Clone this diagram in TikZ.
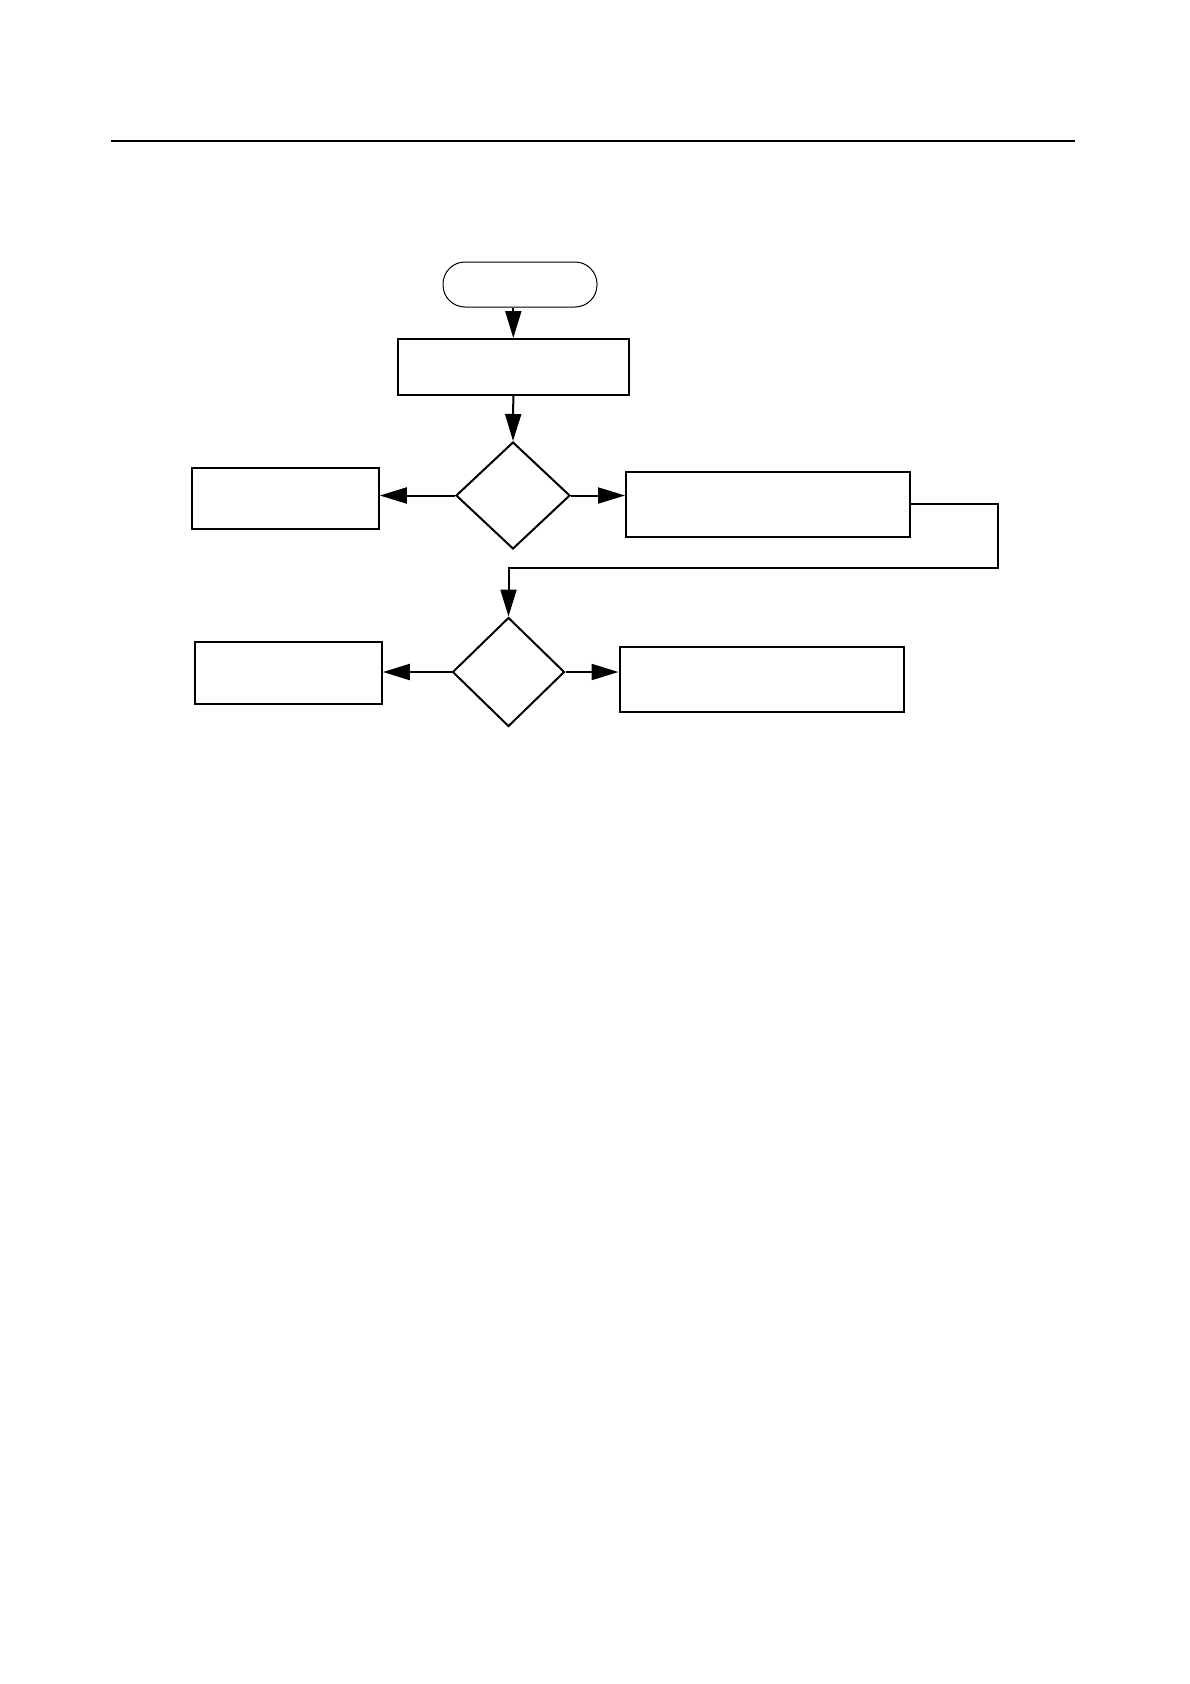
\documentclass[tikz,border=0pt]{standalone}
\usetikzlibrary{shapes.geometric,arrows.meta}

\begin{document}
\begin{tikzpicture}[x=1pt,y=-1pt,>={Triangle[length=27pt,width=16pt]},
    box/.style={draw,line width=2pt,inner sep=0pt},
    cond/.style={draw,diamond,line width=2pt,inner sep=0pt},
    flow/.style={->,line width=2pt}]
  \useasboundingbox (0,0) rectangle (1190,1684);
  \draw[line width=2.4pt] (111,141) -- (1075,141);
  \node[draw,line width=1pt,rounded corners=22pt,minimum width=154pt,minimum height=45pt] (start) at (520,284.5) {};
  \node[box,minimum width=231pt,minimum height=56pt] (init) at (513.3,367) {};
  \node[cond,minimum width=114pt,minimum height=107pt] (testa) at (513,495.5) {};
  \node[box,minimum width=187pt,minimum height=61pt] (noa) at (285.3,498) {};
  \node[box,minimum width=284pt,minimum height=65pt] (yesa) at (768,504) {};
  \node[cond,minimum width=112pt,minimum height=109pt] (testb) at (508.5,672) {};
  \node[box,minimum width=187pt,minimum height=62pt] (nob) at (288.3,673) {};
  \node[box,minimum width=284pt,minimum height=65pt] (yesb) at (761.5,679) {};
  \coordinate (back) at (998,568);
  \draw[flow] (init.north |- start.south) -- (init.north);
  \draw[flow] (init.south) -- (testa.north);
  \draw[flow] (testa.west) -- (noa.east |- testa.west);
  \draw[flow] (testa.east) -- (yesa.west |- testa.east);
  \draw[flow] (yesa.east) -| (back) -| (testb.north);
  \draw[flow] (testb.west) -- (nob.east |- testb.west);
  \draw[flow] (testb.east) -- (yesb.west |- testb.east);
\end{tikzpicture}
\end{document}
